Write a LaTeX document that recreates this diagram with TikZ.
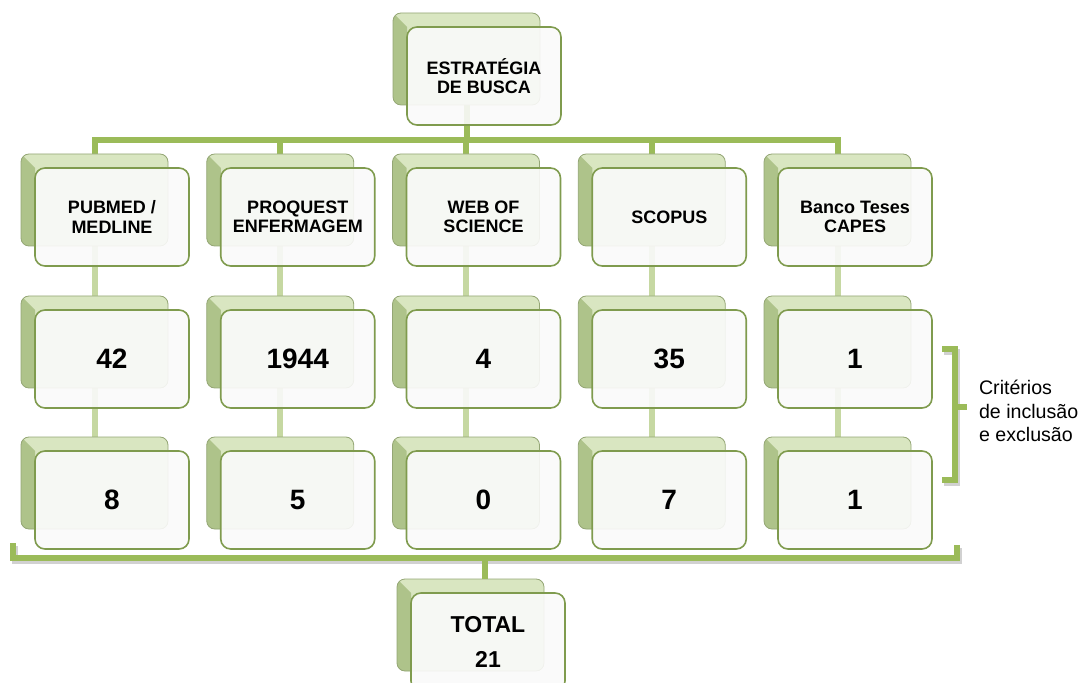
\documentclass[tikz,border=0pt]{standalone}
\usepackage{fontspec}
\setmainfont{Liberation Sans}
\usepackage{tikz}
\usepackage{xcolor}
\usetikzlibrary{arrows.meta,positioning,calc,backgrounds}
\definecolor{trunkgreen}{HTML}{9BBB59}
\definecolor{linkgreen}{HTML}{C6D8A2}
\definecolor{topface}{HTML}{D9E6C1}
\definecolor{sideface}{HTML}{AEC38A}
\definecolor{rimgreen}{HTML}{7F9B4E}
\definecolor{boxwhite}{HTML}{FAFAFA}

\begin{document}
\begin{tikzpicture}[x=0.5pt, y=-0.5pt, every node/.style={font=\bfseries\fontsize{9}{9.6}\selectfont, align=center},
    front/.style={draw=rimgreen, line width=0.8pt, rounded corners=5pt, fill=boxwhite, fill opacity=0.9, text opacity=1, minimum width=77pt, minimum height=49pt, inner sep=0pt},
    back/.style={draw=sideface!85!black, line width=0.4pt, rounded corners=4pt, fill=topface, minimum width=73.5pt, minimum height=46pt, inner sep=0pt,
        path picture={\fill[sideface, sharp corners] (path picture bounding box.north west) -- ++(7pt,-7pt) |- (path picture bounding box.south west) -- cycle;}},
    num/.style={font=\bfseries\fontsize{14}{16}\selectfont},
    trunk/.style={trunkgreen, line width=3pt},
    link/.style={linkgreen, line width=3pt},
    shadowed/.style={preaction={draw=black!18, line width=3pt, transform canvas={shift={(0.8pt,-1.5pt)}}}}]
\useasboundingbox (0,0) rectangle (1085,683);
\clip (0,0) rectangle (1085,683);

\node[back, xshift=-8.75pt, yshift=8.5pt] (buscas) at (484,76) {};
\node[front] (busca) at (484,76) {ESTRATÉGIA\\DE BUSCA};

\foreach \j/\base/\found/\kept in {0/{PUBMED /\\MEDLINE}/42/8, 1/{PROQUEST\\ENFERMAGEM}/1944/5, 2/{WEB OF\\SCIENCE}/4/0, 3/SCOPUS/35/7, 4/{Banco Teses\\CAPES}/1/1} {
    \node[back, xshift=-8.75pt, yshift=8.5pt] (dbs\j) at (112+185.75*\j,217) {};
    \node[front] (db\j) at (112+185.75*\j,217) {\base};
    \node[back, xshift=-8.75pt, yshift=8.5pt] (ns\j) at (112+185.75*\j,359) {};
    \node[front, num] (n\j) at (112+185.75*\j,359) {\found};
    \node[back, xshift=-8.75pt, yshift=8.5pt] (ms\j) at (112+185.75*\j,500) {};
    \node[front, num] (m\j) at (112+185.75*\j,500) {\kept};
}

\node[back, xshift=-8.75pt, yshift=8.5pt] (totals) at (488,642) {};
\node[front, font=\bfseries\fontsize{11.5}{17.5}\selectfont] (total) at (488,642) {TOTAL\\21};

\begin{scope}[on background layer]
\coordinate (hub) at (466.5,140);
\draw[trunk] (buscas.south) -- (hub);
\draw[trunk] (dbs0.north) |- (hub) -| (dbs4.north);
\foreach \j in {1,2,3}
    \draw[trunk] (dbs\j.north) -- (dbs\j.north |- hub);
\foreach \j in {0,...,4} {
    \draw[link] (dbs\j.south) -- (ns\j.north);
    \draw[link] (ns\j.south) -- (ms\j.north);
}
\end{scope}

\coordinate (brl) at (13,543);
\coordinate (brmid) at (485,558);
\coordinate (brr) at (957,545);
\draw[trunk, shadowed] (brl) |- (brmid) -| (brr);
\draw[trunk] (brmid) -- (brmid |- totals.north);

\coordinate (crt) at (942,349);
\coordinate (crb) at (942,480);
\coordinate (crn) at (967,407);
\draw[trunk, shadowed] (crt) -- ++(13,0) |- (crb);
\draw[trunk] (crn -| 955,0) -- (crn);
\node[font=\fontsize{9.8}{11.75}\selectfont, align=left, anchor=west] (crit) at (972,411) {Critérios\\de inclusão\\e exclusão};
\end{tikzpicture}
\end{document}
